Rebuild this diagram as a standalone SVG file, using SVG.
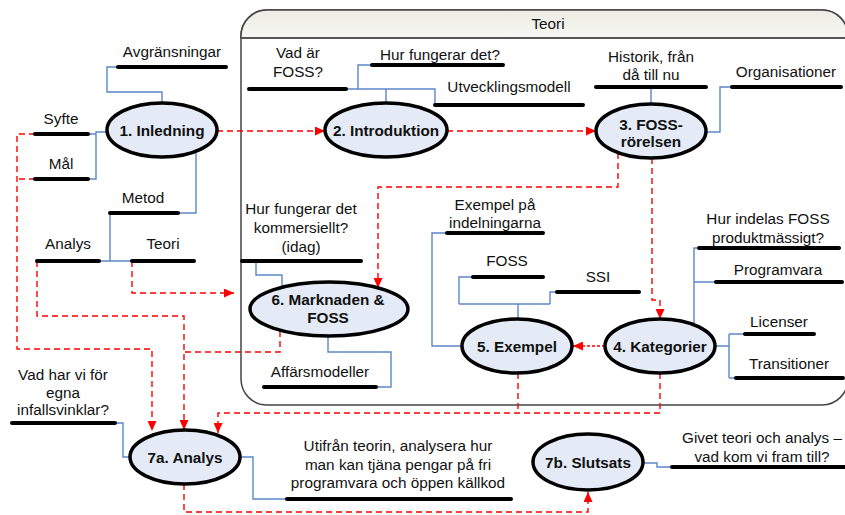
<svg xmlns="http://www.w3.org/2000/svg" width="845" height="515" viewBox="0 0 845 515">
  <defs>
    <linearGradient id="hdr" x1="0" y1="0" x2="0" y2="1">
      <stop offset="0" stop-color="#ecece4"/>
      <stop offset="1" stop-color="#f8f8f4"/>
    </linearGradient>
    <marker id="arr" markerUnits="userSpaceOnUse" markerWidth="11" markerHeight="9" refX="10" refY="4.5" orient="auto">
      <path d="M0,0 L10,4.5 L0,9 Z" fill="#ff0000"/>
    </marker>
    <style>
      .lbl { font-family: "Liberation Sans", Arial, sans-serif; font-size: 15.3px; fill: #111; text-anchor: middle; }
      .ttl { font-family: "Liberation Sans", Arial, sans-serif; font-size: 15.3px; font-weight: bold; fill: #111; text-anchor: middle; }
      .node ellipse { fill: #e5ebf6; stroke: #000; stroke-width: 3.5; }
      .ul { stroke: #000; stroke-width: 4; stroke-linecap: round; fill: none; }
      .blue { stroke: #5b87c6; stroke-width: 1.4; fill: none; }
      .red { stroke: #ff0000; stroke-width: 1.4; fill: none; stroke-dasharray: 6 4; }
      .dot { stroke: #ff0000; stroke-width: 1.4; fill: none; stroke-dasharray: 3 2; }
    </style>
  </defs>

  <!-- Teori swimlane -->
  <g id="teori-lane">
    <rect x="241" y="10" width="607" height="395" rx="26" fill="#ffffff" stroke="#444" stroke-width="1.5"/>
    <path d="M241,38 V36 A26,26 0 0 1 267,10 H822 A26,26 0 0 1 848,36 V38 Z" fill="url(#hdr)" stroke="#444" stroke-width="1.5"/>
    <line x1="241" y1="38" x2="848" y2="38" stroke="#555" stroke-width="2.2"/>
    <text class="lbl" x="548" y="29">Teori</text>
  </g>

  <!-- connectors -->
  <g id="connectors">
    <!-- blue attachment lines -->
    <path class="blue" d="M162,103 V92 H107 V67 H118"/>
    <path class="blue" d="M108,132 H96 V179 H88 M96,134 H88"/>
    <path class="blue" d="M196,153 V213 H178"/>
    <path class="blue" d="M110,213 V261 M99,261 H132"/>
    <path class="blue" d="M386,104 V89 M346,89 H435 V105 M358,89 V65 H372"/>
    <path class="blue" d="M651,105 V87 M706,132 H720 V87 H732"/>
    <path class="blue" d="M242,261 H256 V275 H282 V287 M328,336 V352 H391 V387 H376"/>
    <path class="blue" d="M463,346 H432 V233 H447 M518,319 V304 M459,304 H550 M459,304 V277 H473 M550,304 V292 H557"/>
    <path class="blue" d="M694,325 V248 H699 M694,282 H716 M715,346 H729 M729,334 V378 M729,334 H745 M729,378 H736"/>
    <path class="blue" d="M115,423 H123 V457 H130 M239,457 H253 V499 H287"/>
    <path class="blue" d="M643,463 H657 V467 H672"/>

    <!-- red flow lines -->
    <path class="red" d="M217,131 H325" marker-end="url(#arr)"/>
    <path class="red" d="M447,131 H596" marker-end="url(#arr)"/>
    <path class="red" d="M35,134 H17 V349 H152 V431" marker-end="url(#arr)"/>
    <path class="red" d="M35,179 H17"/>
    <path class="red" d="M37,261 V316 H184 V430" marker-end="url(#arr)"/>
    <path class="red" d="M280,331 V352 H184"/>
    <path class="red" d="M132,261 V293 H234" marker-end="url(#arr)"/>
    <path class="red" d="M618,153 V187 H378 V288" marker-end="url(#arr)"/>
    <path class="red" d="M652,158 V300 H660 V319" marker-end="url(#arr)"/>
    <path class="dot" d="M605,346 H573" marker-end="url(#arr)"/>
    <path class="red" d="M518,373 V413"/>
    <path class="red" d="M660,373 V413 H218 V433" marker-end="url(#arr)"/>
    <path class="red" d="M184,484 V512 H588 V492" marker-end="url(#arr)"/>
  </g>

  <!-- underlined labels -->
  <g id="labels">
    <g id="lbl-avgransningar"><line class="ul" x1="118" y1="67" x2="226" y2="67"/><text class="lbl" x="172" y="57">Avgränsningar</text></g>
    <g id="lbl-syfte"><line class="ul" x1="35" y1="134" x2="88" y2="134"/><text class="lbl" x="61" y="124">Syfte</text></g>
    <g id="lbl-mal"><line class="ul" x1="35" y1="179" x2="88" y2="179"/><text class="lbl" x="61" y="169">Mål</text></g>
    <g id="lbl-metod"><line class="ul" x1="110" y1="213" x2="178" y2="213"/><text class="lbl" x="143" y="203">Metod</text></g>
    <g id="lbl-analys"><line class="ul" x1="37" y1="261" x2="99" y2="261"/><text class="lbl" x="68" y="249">Analys</text></g>
    <g id="lbl-teori"><line class="ul" x1="132" y1="261" x2="194" y2="261"/><text class="lbl" x="163" y="249">Teori</text></g>
    <g id="lbl-vad-ar-foss"><line class="ul" x1="249" y1="89" x2="346" y2="89"/><text class="lbl" x="298" y="58">Vad är</text><text class="lbl" x="298" y="77">FOSS?</text></g>
    <g id="lbl-hur-fungerar"><line class="ul" x1="372" y1="65" x2="503" y2="65"/><text class="lbl" x="440" y="60">Hur fungerar det?</text></g>
    <g id="lbl-utveckling"><line class="ul" x1="435" y1="105" x2="583" y2="105"/><text class="lbl" x="509" y="92">Utvecklingsmodell</text></g>
    <g id="lbl-historik"><line class="ul" x1="596" y1="87" x2="706" y2="87"/><text class="lbl" x="651" y="62">Historik, från</text><text class="lbl" x="651" y="80">då till nu</text></g>
    <g id="lbl-organisationer"><line class="ul" x1="732" y1="87" x2="841" y2="87"/><text class="lbl" x="786" y="77">Organisationer</text></g>
    <g id="lbl-kommersiellt"><line class="ul" x1="242" y1="261" x2="361" y2="261"/><text class="lbl" x="301" y="214">Hur fungerar det</text><text class="lbl" x="301" y="233">kommersiellt?</text><text class="lbl" x="301" y="252">(idag)</text></g>
    <g id="lbl-affarsmodeller"><line class="ul" x1="264" y1="387" x2="376" y2="387"/><text class="lbl" x="320" y="377">Affärsmodeller</text></g>
    <g id="lbl-exempel-pa"><line class="ul" x1="447" y1="233" x2="543" y2="233"/><text class="lbl" x="495" y="210">Exempel på</text><text class="lbl" x="495" y="228">indelningarna</text></g>
    <g id="lbl-foss"><line class="ul" x1="473" y1="277" x2="543" y2="277"/><text class="lbl" x="507" y="266">FOSS</text></g>
    <g id="lbl-ssi"><line class="ul" x1="557" y1="292" x2="639" y2="292"/><text class="lbl" x="598" y="282">SSI</text></g>
    <g id="lbl-hur-indelas"><line class="ul" x1="699" y1="248" x2="839" y2="248"/><text class="lbl" x="768" y="224">Hur indelas FOSS</text><text class="lbl" x="768" y="243">produktmässigt?</text></g>
    <g id="lbl-programvara"><line class="ul" x1="716" y1="282" x2="842" y2="282"/><text class="lbl" x="778" y="275">Programvara</text></g>
    <g id="lbl-licenser"><line class="ul" x1="745" y1="334" x2="814" y2="334"/><text class="lbl" x="779" y="327">Licenser</text></g>
    <g id="lbl-transitioner"><line class="ul" x1="736" y1="378" x2="843" y2="378"/><text class="lbl" x="789" y="369">Transitioner</text></g>
    <g id="lbl-infallsvinklar"><line class="ul" x1="12" y1="423" x2="115" y2="423"/><text class="lbl" x="63" y="380">Vad har vi för</text><text class="lbl" x="63" y="398">egna</text><text class="lbl" x="63" y="415">infallsvinklar?</text></g>
    <g id="lbl-utifran"><line class="ul" x1="287" y1="499" x2="511" y2="499"/><text class="lbl" x="398" y="451">Utifrån teorin, analysera hur</text><text class="lbl" x="398" y="470">man kan tjäna pengar på fri</text><text class="lbl" x="398" y="488">programvara och öppen källkod</text></g>
    <g id="lbl-givet"><line class="ul" x1="672" y1="467" x2="848" y2="467"/><text class="lbl" x="762" y="443">Givet teori och analys –</text><text class="lbl" x="762" y="462">vad kom vi fram till?</text></g>
  </g>

  <!-- nodes -->
  <g id="n1" class="node"><ellipse cx="162" cy="130" rx="55" ry="27"/><text class="ttl" x="162" y="136">1. Inledning</text></g>
  <g id="n2" class="node"><ellipse cx="386" cy="130" rx="61" ry="27"/><text class="ttl" x="386" y="136">2. Introduktion</text></g>
  <g id="n3" class="node"><ellipse cx="651" cy="131" rx="55" ry="27"/><text class="ttl" x="651" y="130">3. FOSS-</text><text class="ttl" x="651" y="147">rörelsen</text></g>
  <g id="n6" class="node"><ellipse cx="329" cy="309" rx="79" ry="27"/><text class="ttl" x="328" y="305">6. Marknaden &amp;</text><text class="ttl" x="328" y="323">FOSS</text></g>
  <g id="n5" class="node"><ellipse cx="517" cy="346" rx="55" ry="27"/><text class="ttl" x="517" y="352">5. Exempel</text></g>
  <g id="n4" class="node"><ellipse cx="660" cy="346" rx="55" ry="27"/><text class="ttl" x="660" y="352">4. Kategorier</text></g>
  <g id="n7a" class="node"><ellipse cx="185" cy="457" rx="55" ry="27"/><text class="ttl" x="185" y="463">7a. Analys</text></g>
  <g id="n7b" class="node"><ellipse cx="588" cy="462" rx="55" ry="28"/><text class="ttl" x="588" y="468">7b. Slutsats</text></g>
</svg>
